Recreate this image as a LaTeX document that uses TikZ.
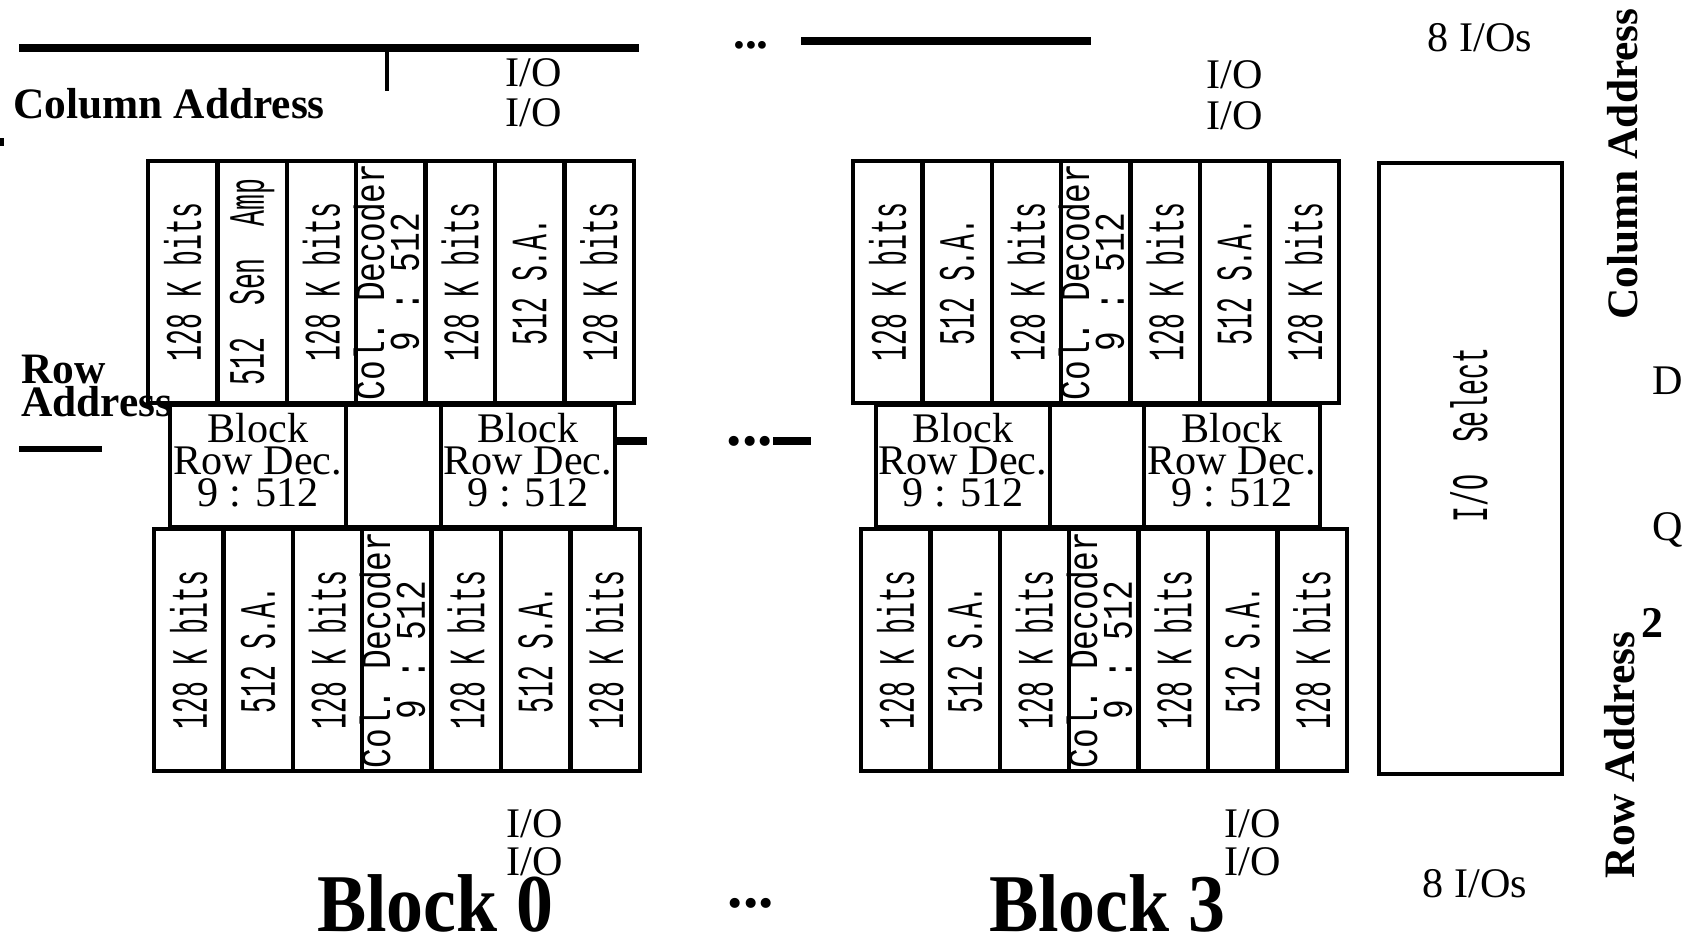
\documentclass[tikz,border=0pt]{standalone}
\usepackage{fontspec}
\setmainfont{Liberation Serif}
\setmonofont{Liberation Mono}
\usepackage{graphicx}
\usetikzlibrary{positioning}

\newcommand{\iofont}{\fontsize{24}{18}\selectfont}
\newcommand{\addrfont}{\fontsize{24.7}{19.3}\selectfont\bfseries}
\newcommand{\blkfont}{\fontsize{46.7}{47}\selectfont\bfseries}
\newcommand{\cellfont}{\fontsize{29}{30}\selectfont\ttfamily}
\newcommand{\vlbl}[1]{\rotatebox{90}{\scalebox{0.52}[1]{#1}}}
\newcommand{\declbl}{\makebox[0pt]{\rotatebox{90}{\scalebox{0.78}[1]{\fontsize{24}{17.6}\selectfont\begin{tabular}{@{}c@{}}Col. Decoder\\[-1.5pt]9 : 512\end{tabular}}}}}

\begin{document}
\begin{tikzpicture}[x=0.02cm, y=-0.02cm]
    % Define styles
    \tikzstyle{cell} = [rectangle, draw=black, line width=2.5pt, minimum width=1.388cm, minimum height=4.84cm, inner sep=0pt, outer sep=0pt, font=\cellfont]
    \tikzstyle{rowdec} = [rectangle, draw=black, line width=2.5pt, minimum height=2.44cm, inner sep=0pt, outer sep=0pt, align=center, text depth=7pt, font=\iofont]
    \tikzstyle{lbl} = [inner sep=0pt, font=\iofont]
    \tikzstyle{addr} = [inner sep=0pt, font=\addrfont]
    \tikzstyle{bus} = [line width=4.5pt]
    \tikzstyle{dots} = [inner sep=0pt, font=\fontsize{35}{35}\selectfont\bfseries]

    \useasboundingbox (0,0) rectangle (1685,937);

    % Cell rows of Block 0 and Block 3
    \foreach \r/\cx/\cy/\sa in {b0u/148/161/512~~Sen~~Amp, b0l/154/529/512 S.A., b3u/853/161/512 S.A., b3l/861/529/512 S.A.} {
        \node (\r1) [cell, anchor=north west] at (\cx,\cy) {\vlbl{128 K bits}};
        \node (\r2) [cell, right=0pt of \r1] {\vlbl{\sa}};
        \node (\r3) [cell, right=0pt of \r2] {\vlbl{128 K bits}};
        \node (\r4) [cell, right=0pt of \r3] {\declbl};
        \node (\r5) [cell, right=0pt of \r4] {\vlbl{128 K bits}};
        \node (\r6) [cell, right=0pt of \r5] {\vlbl{512 S.A.}};
        \node (\r7) [cell, right=0pt of \r6] {\vlbl{128 K bits}};
    }

    % Row decoders
    \node (rd0a) [rowdec, minimum width=3.52cm, anchor=north west] at (170,405) {Block\\Row Dec.\\9 : 512};
    \node (rd0m) [rowdec, minimum width=1.9cm, right=0pt of rd0a] {};
    \node (rd0b) [rowdec, minimum width=3.48cm, right=0pt of rd0m] {Block\\Row Dec.\\9 : 512};
    \node (rd3a) [rowdec, minimum width=3.48cm, anchor=north west] at (876,405) {Block\\Row Dec.\\9 : 512};
    \node (rd3m) [rowdec, minimum width=1.88cm, right=0pt of rd3a] {};
    \node (rd3b) [rowdec, minimum width=3.52cm, right=0pt of rd3m] {Block\\Row Dec.\\9 : 512};

    % I/O select
    \node (iosel) [rectangle, draw=black, line width=2.5pt, minimum width=3.66cm, minimum height=12.22cm, anchor=north west] at (1377,161) {};
    \node (ioseltxt) [inner sep=0pt, font=\cellfont] at (1469,435) {\vlbl{I/O~~Select}};

    % I/O labels
    \node (iotl1) [lbl] at (534,73) {I/O};
    \node (iotl2) [lbl] at (534,113) {I/O};
    \node (iotr1) [lbl] at (1235,75) {I/O};
    \node (iotr2) [lbl] at (1235,116) {I/O};
    \node (iobl1) [lbl] at (535,824) {I/O};
    \node (iobl2) [lbl] at (535,862) {I/O};
    \node (iobr1) [lbl] at (1253,824) {I/O};
    \node (iobr2) [lbl] at (1253,862) {I/O};
    \node (ios8t) [lbl] at (1480,38) {8 I/Os};
    \node (ios8b) [lbl] at (1475,884) {8 I/Os};
    \node (dpin) [lbl] at (1668,381) {D};
    \node (qpin) [lbl] at (1668,530) {Q};
    \node (two) [inner sep=0pt, font=\fontsize{25}{25}\selectfont\bfseries] at (1652,623) {2};

    % Address labels
    \node (coladdr) [addr, anchor=west] at (13,104) {Column Address};
    \node (rowaddr) [addr, anchor=west, align=left] at (21,386) {Row\\Address};
    \node (coladdr2) [addr, rotate=90] at (1623,164) {Column Address};
    \node (rowaddr2) [addr, rotate=90] at (1620,755) {Row Address};

    % Block titles and dots
    \node (blk0) [inner sep=0pt, font=\blkfont] at (435,903) {\scalebox{0.9}[1]{Block 0}};
    \node (blk3) [inner sep=0pt, font=\blkfont] at (1107,903) {\scalebox{0.9}[1]{Block 3}};
    \node (dotst) [dots, font=\fontsize{27}{27}\selectfont\bfseries] at (751,45) {...};
    \node (dotsm) [dots] at (750,441) {...};
    \node (dotsb) [dots] at (751,903) {...};

    % Buses
    \coordinate (cbusw) at (19,48);
    \coordinate (cbuse) at (639,48);
    \coordinate (ctap) at (387,48);
    \coordinate (cbus2w) at (801,41);
    \coordinate (cbus2e) at (1091,41);
    \coordinate (rbusw) at (19,449);
    \coordinate (rbuse) at (102,449);
    \coordinate (mbuse) at (811,441);
    \draw [bus] (cbusw) -- (cbuse);
    \draw [line width=2.8pt] (ctap) -- ++(0,43);
    \draw [bus] (cbus2w) -- (cbus2e);
    \draw [bus, line width=3.5pt] (rbusw) -- (rbuse);
    \draw [bus, line width=4pt] (rd0b.east |- dotsm) -- ++(32,0);
    \draw [bus, line width=4pt] (dotsm.east) -- (mbuse);
    \fill (0,138) rectangle (4,146);
\end{tikzpicture}
\end{document}
